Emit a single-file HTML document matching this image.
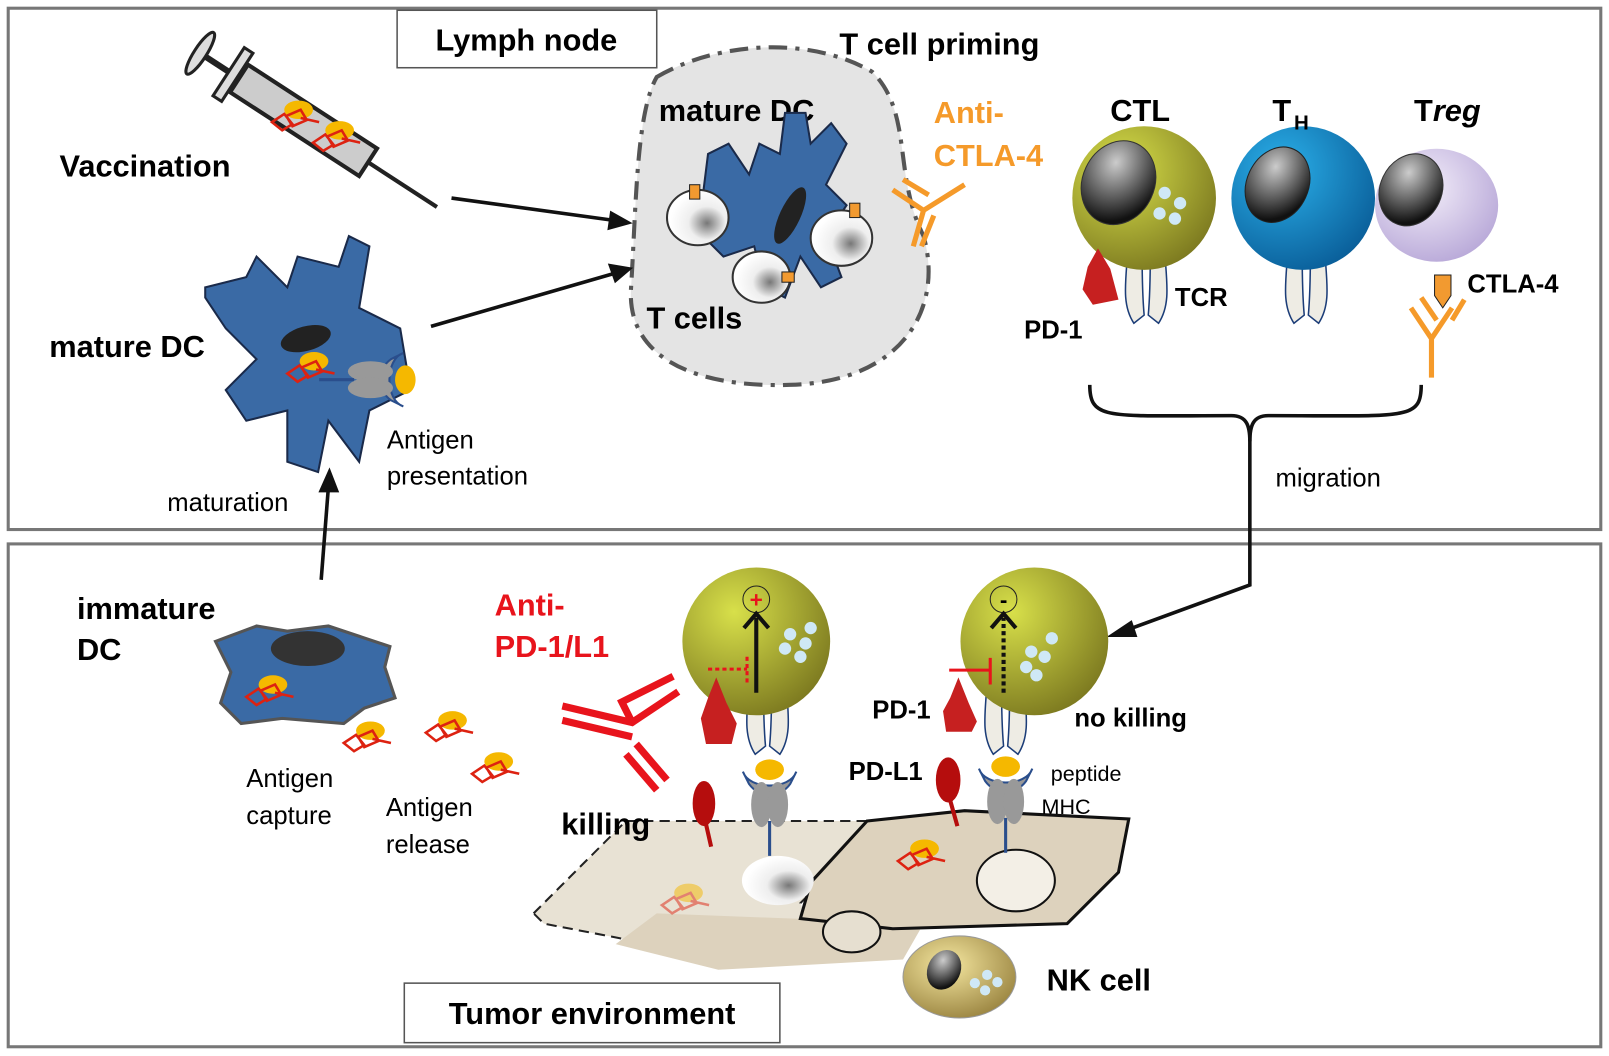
<!DOCTYPE html>
<html><head><meta charset="utf-8"><style>
html,body{margin:0;padding:0;background:#fff}
svg{display:block}
text{font-family:"Liberation Sans",Arial,sans-serif}
</style></head><body>
<svg width="1609" height="1056" viewBox="0 0 1568 1029" preserveAspectRatio="none" xmlns="http://www.w3.org/2000/svg">
<defs>
<radialGradient id="gy" cx="35%" cy="30%" r="75%"><stop offset="0" stop-color="#d8e04a"/><stop offset="1" stop-color="#7d7a20"/></radialGradient>
<radialGradient id="bl" cx="35%" cy="30%" r="75%"><stop offset="0" stop-color="#2bb0ea"/><stop offset="1" stop-color="#0a5f9a"/></radialGradient>
<radialGradient id="pu" cx="40%" cy="35%" r="70%"><stop offset="0" stop-color="#f4effa"/><stop offset="1" stop-color="#b8a8d8"/></radialGradient>
<radialGradient id="nk" cx="40%" cy="35%" r="70%"><stop offset="0" stop-color="#f5e7a0"/><stop offset="1" stop-color="#9a8440"/></radialGradient>
<radialGradient id="nuc" cx="35%" cy="30%" r="70%"><stop offset="0" stop-color="#ccc"/><stop offset="1" stop-color="#111"/></radialGradient>
<radialGradient id="wc" cx="65%" cy="60%" r="60%"><stop offset="0" stop-color="#777"/><stop offset="0.5" stop-color="#eee"/><stop offset="1" stop-color="#fff"/></radialGradient>
<g id="tcr"><path d="M-18,0 C-20,30 -24,52 -12,70 L-2,62 C-4,40 -4,20 -4,0Z" fill="#eeece4" stroke="#1c3d78" stroke-width="1.5"/><path d="M18,0 C20,30 24,52 12,70 L2,62 C4,40 4,20 4,0Z" fill="#eeece4" stroke="#1c3d78" stroke-width="1.5"/></g>
<g id="mhc"><path d="M-26,-8 C-20,10 20,10 26,-8 L20,4 C10,18 -10,18 -20,4Z" fill="#999" stroke="#2a4e8c" stroke-width="2"/><ellipse cx="-8" cy="24" rx="10" ry="22" fill="#999"/><ellipse cx="8" cy="24" rx="10" ry="22" fill="#999"/><line x1="0" y1="40" x2="0" y2="74" stroke="#2a4e8c" stroke-width="3"/><ellipse cx="0" cy="-10" rx="14" ry="10" fill="#f5b800"/></g>
<g id="ag"><ellipse cx="6" cy="-8" rx="14" ry="9" fill="#f5b800"/><path d="M-20,4 l12,-8 l8,10 l-10,6 z M-6,-2 l14,-6 l6,10 l-14,6z M8,0 l18,4" fill="none" stroke="#d21" stroke-width="2.5"/></g>
</defs>
<rect x="8" y="8" width="1552" height="508" fill="none" stroke="#777" stroke-width="3"/>
<rect x="8" y="530" width="1552" height="490" fill="none" stroke="#777" stroke-width="3"/>

<!-- syringe -->
<g transform="translate(300,120) rotate(33)">
<rect x="-80" y="-16" width="150" height="32" fill="#ccc" stroke="#222" stroke-width="4"/>
<line x1="70" y1="0" x2="150" y2="0" stroke="#222" stroke-width="4"/>
<line x1="-80" y1="0" x2="-120" y2="0" stroke="#222" stroke-width="6"/>
<rect x="-92" y="-28" width="10" height="56" fill="#ddd" stroke="#222" stroke-width="3"/>
<ellipse cx="-125" cy="0" rx="6" ry="24" fill="#ddd" stroke="#222" stroke-width="3"/>
</g>
<use href="#ag" x="285" y="115"/><use href="#ag" x="325" y="135"/>
<text x="58" y="172" font-size="30" font-weight="bold">Vaccination</text>

<!-- lymph node region -->
<path d="M640,75 C700,40 790,35 850,70 C890,110 870,170 900,230 C920,300 880,372 770,375 C680,378 610,350 615,280 C620,200 620,110 640,75Z" fill="#e4e4e4" stroke="#555" stroke-width="4" stroke-dasharray="18,8,4,8"/>
<rect x="387" y="10" width="253" height="56" fill="#fff" stroke="#555" stroke-width="1.5"/>
<text x="513" y="49" font-size="30" font-weight="bold" text-anchor="middle">Lymph node</text>
<text x="642" y="118" font-size="30" font-weight="bold">mature DC</text>
<text x="630" y="320" font-size="30" font-weight="bold">T cells</text>
<text x="818" y="53" font-size="30" font-weight="bold">T cell priming</text>
<path d="M690,150 l20,-10 l20,30 l10,-30 l20,10 l5,-40 l20,0 l5,30 l20,-20 l15,20 l-20,40 l20,20 l-20,30 l15,40 l-20,10 l-20,-30 l-15,40 l-20,-10 l-10,-40 l-30,10 l-20,-20 l20,-20 l-20,-20z" fill="#3a6aa5" stroke="#1a2a4a" stroke-width="2"/>
<ellipse cx="770" cy="210" rx="10" ry="30" transform="rotate(25 770 210)" fill="#222"/>
<ellipse cx="680" cy="212" rx="30" ry="27" fill="url(#wc)" stroke="#333" stroke-width="2"/>
<ellipse cx="820" cy="232" rx="30" ry="27" fill="url(#wc)" stroke="#333" stroke-width="2"/>
<ellipse cx="742" cy="270" rx="28" ry="25" fill="url(#wc)" stroke="#333" stroke-width="2"/>
<rect x="672" y="180" width="10" height="14" fill="#f29a30" stroke="#222"/><rect x="828" y="198" width="10" height="14" fill="#f29a30" stroke="#222"/><rect x="762" y="265" width="12" height="10" fill="#f29a30" stroke="#222"/>

<!-- arrows -->
<g stroke="#111" stroke-width="3.5" fill="#111">
<line x1="440" y1="193" x2="600" y2="215"/><path d="M612,217 l-16,-9 l-2,14z"/>
<line x1="420" y1="318" x2="600" y2="266"/><path d="M613,262 l-18,-3 l5,14z"/>
<line x1="313" y1="565" x2="320" y2="475"/><path d="M321,460 l-8,18 l15,0z"/>
<path d="M1218,420 V570 L1095,615" fill="none"/><path d="M1084,619 l18,-12 l4,12z"/>
</g>
<text x="910" y="120" font-size="30" font-weight="bold" fill="#f59a2a">Anti-</text>
<text x="910" y="162" font-size="30" font-weight="bold" fill="#f59a2a">CTLA-4</text>
<g stroke="#f59a2a" stroke-width="5" fill="none"><path d="M870,185 l30,20 l40,-25 M880,175 l25,15 M900,205 l-10,35 M910,210 l-12,30"/></g>

<!-- mature DC left -->
<path d="M200,280 l40,-10 l10,-20 l30,30 l10,-30 l40,10 l10,-30 l20,10 l-10,60 l40,20 l10,60 l-40,20 l-10,50 l-30,-40 l-10,50 l-30,-10 l0,-50 l-40,10 l-20,-30 l30,-30 l-30,-30 l-20,-30z" fill="#3a6aa5" stroke="#1a2a4a" stroke-width="2"/>
<ellipse cx="298" cy="330" rx="25" ry="12" fill="#222" transform="rotate(-15 298 330)"/>
<use href="#ag" x="300" y="360"/>
<g transform="translate(385,370) rotate(90)"><use href="#mhc"/></g>
<text x="48" y="348" font-size="30" font-weight="bold">mature DC</text>
<text x="377" y="437" font-size="25">Antigen</text>
<text x="377" y="472" font-size="25">presentation</text>
<text x="163" y="498" font-size="25">maturation</text>

<!-- T cells top right -->
<use href="#tcr" x="1117" y="245"/><use href="#tcr" x="1273" y="245"/>
<circle cx="1115" cy="193" r="70" fill="url(#gy)"/>
<ellipse cx="1090" cy="178" rx="35" ry="42" fill="url(#nuc)" stroke="#333" transform="rotate(25 1090 178)"/>
<g fill="#cfe8f6"><circle cx="1135" cy="188" r="6"/><circle cx="1150" cy="198" r="6"/><circle cx="1130" cy="208" r="6"/><circle cx="1145" cy="213" r="6"/></g>
<circle cx="1270" cy="193" r="70" fill="url(#bl)"/>
<ellipse cx="1245" cy="180" rx="30" ry="38" fill="url(#nuc)" stroke="#222" transform="rotate(25 1245 180)"/>
<ellipse cx="1400" cy="200" rx="60" ry="55" fill="url(#pu)"/>
<ellipse cx="1375" cy="185" rx="30" ry="36" fill="url(#nuc)" stroke="#333" transform="rotate(25 1375 185)"/>
<path d="M1060,260 l10,-18 l12,20 l8,30 l-25,5 l-10,-15z" fill="#c62020"/>
<path d="M1398,268 h16 v20 l-8,12 l-8,-12z" fill="#f29a30" stroke="#222"/>
<g stroke="#f59a2a" stroke-width="5" fill="none"><path d="M1375,300 l20,30 l20,-30 M1385,290 l15,22 M1395,330 v38 M1415,312 l12,-20"/></g>
<text x="1082" y="118" font-size="30" font-weight="bold">CTL</text>
<text x="1240" y="118" font-size="30" font-weight="bold">T</text><text x="1261" y="126" font-size="20" font-weight="bold">H</text>
<text x="1378" y="118" font-size="30" font-weight="bold">T<tspan font-style="italic">reg</tspan></text>
<text x="1145" y="298" font-size="25" font-weight="bold">TCR</text>
<text x="998" y="330" font-size="25" font-weight="bold">PD-1</text>
<text x="1430" y="285" font-size="25" font-weight="bold">CTLA-4</text>
<path d="M1062,375 C1062,410 1080,405 1200,405 C1215,405 1218,415 1218,430 C1218,415 1221,405 1236,405 C1370,405 1385,410 1385,375" fill="none" stroke="#111" stroke-width="3.5"/>
<text x="1243" y="474" font-size="25">migration</text>

<!-- immature DC -->
<text x="75" y="603" font-size="30" font-weight="bold">immature</text>
<text x="75" y="643" font-size="30" font-weight="bold">DC</text>
<path d="M210,625 l40,-15 l30,5 l40,-5 l30,10 l30,10 l-5,20 l10,30 l-30,10 l-20,15 l-60,-5 l-40,5 l-20,-20 l10,-30z" fill="#3a6aa5" stroke="#555" stroke-width="3"/>
<ellipse cx="300" cy="632" rx="36" ry="17" fill="#333"/>
<use href="#ag" x="260" y="675"/>
<use href="#ag" x="355" y="720"/><use href="#ag" x="435" y="710"/><use href="#ag" x="480" y="750"/>
<text x="240" y="767" font-size="25">Antigen</text><text x="240" y="803" font-size="25">capture</text>
<text x="376" y="795" font-size="25">Antigen</text><text x="376" y="831" font-size="25">release</text>
<text x="482" y="600" font-size="30" font-weight="bold" fill="#e8141c">Anti-</text>
<text x="482" y="640" font-size="30" font-weight="bold" fill="#e8141c">PD-1/L1</text>
<g stroke="#e8141c" stroke-width="7" fill="none"><path d="M548,688 l68,16 l45,-30 M548,702 l68,16 M616,704 l-10,-20 l50,-25 M620,725 l30,35 M610,735 l30,35"/></g>

<!-- tumor cells -->
<path d="M520,890 L610,800 L850,800 L820,840 L780,880 L790,905 L660,925 L530,900Z" fill="#e8e2d4" stroke="#222" stroke-width="2" stroke-dasharray="10,6"/>
<path d="M600,920 L640,890 L900,900 L880,935 L700,945Z" fill="#ddd2bd"/>
<path d="M845,800 L940,790 L1100,798 L1090,850 L1040,900 L870,905 L780,895 L790,860Z" fill="#ddd2bd" stroke="#111" stroke-width="3"/>
<ellipse cx="758" cy="858" rx="35" ry="24" fill="url(#wc)"/>
<ellipse cx="990" cy="858" rx="38" ry="30" fill="#f3efe6" stroke="#111" stroke-width="2"/>
<ellipse cx="830" cy="908" rx="28" ry="20" fill="#e6dfd0" stroke="#111" stroke-width="2"/>
<use href="#ag" x="665" y="878" opacity="0.5"/><use href="#ag" x="895" y="835"/>
<text x="547" y="813" font-size="30" font-weight="bold">killing</text>
<rect x="394" y="958" width="366" height="58" fill="#fff" stroke="#555" stroke-width="1.5"/>
<text x="577" y="998" font-size="30" font-weight="bold" text-anchor="middle">Tumor environment</text>

<!-- bottom T cells -->
<use href="#tcr" x="748" y="665"/><use href="#tcr" x="980" y="665"/>
<circle cx="737" cy="625" r="72" fill="url(#gy)"/>
<circle cx="1008" cy="625" r="72" fill="url(#gy)"/>
<circle cx="737" cy="584" r="13" fill="none" stroke="#222"/><text x="737" y="592" font-size="22" font-weight="bold" fill="#e8141c" text-anchor="middle">+</text>
<line x1="737" y1="675" x2="737" y2="602" stroke="#111" stroke-width="4"/><path d="M725,612 l12,-14 l12,14" fill="none" stroke="#111" stroke-width="4"/>
<path d="M690,652 h38 M728,640 v26" stroke="#e8141c" stroke-width="3" stroke-dasharray="4,3"/>
<circle cx="978" cy="584" r="13" fill="none" stroke="#222"/><text x="978" y="592" font-size="22" font-weight="bold" text-anchor="middle">-</text>
<line x1="978" y1="675" x2="978" y2="602" stroke="#111" stroke-width="4" stroke-dasharray="4,3"/><path d="M966,612 l12,-14 l12,14" fill="none" stroke="#111" stroke-width="4"/>
<path d="M925,653 h40 M965,641 v26" stroke="#e8141c" stroke-width="3"/>
<g fill="#cfe8f6"><circle cx="770" cy="618" r="6"/><circle cx="790" cy="612" r="6"/><circle cx="785" cy="627" r="6"/><circle cx="765" cy="632" r="6"/><circle cx="780" cy="640" r="6"/><circle cx="1005" cy="635" r="6"/><circle cx="1025" cy="622" r="6"/><circle cx="1018" cy="640" r="6"/><circle cx="1000" cy="650" r="6"/><circle cx="1010" cy="658" r="6"/></g>
<path d="M690,680 l8,-20 l10,25 l10,20 l-5,20 l-25,0 l-5,-25z" fill="#c62020"/>
<path d="M926,680 l8,-20 l10,25 l8,18 l-5,10 l-25,0 l-3,-20z" fill="#c62020"/>
<ellipse cx="686" cy="783" rx="11" ry="22" fill="#b50d0d"/><line x1="688" y1="803" x2="693" y2="825" stroke="#b50d0d" stroke-width="4"/>
<ellipse cx="924" cy="760" rx="12" ry="22" fill="#b50d0d"/><line x1="926" y1="780" x2="933" y2="805" stroke="#b50d0d" stroke-width="4"/>
<use href="#mhc" x="750" y="760"/><use href="#mhc" x="980" y="757"/>
<text x="850" y="700" font-size="25" font-weight="bold">PD-1</text>
<text x="827" y="760" font-size="25" font-weight="bold">PD-L1</text>
<text x="1047" y="708" font-size="25" font-weight="bold">no killing</text>
<text x="1024" y="761" font-size="21">peptide</text>
<text x="1015" y="793" font-size="21">MHC</text>

<!-- NK cell -->
<ellipse cx="935" cy="952" rx="55" ry="40" fill="url(#nk)" stroke="#999"/>
<ellipse cx="920" cy="945" rx="16" ry="20" fill="url(#nuc)" transform="rotate(25 920 945)"/>
<g fill="#cfe8f6"><circle cx="950" cy="958" r="5"/><circle cx="962" cy="950" r="5"/><circle cx="960" cy="965" r="5"/><circle cx="972" cy="957" r="5"/></g>
<text x="1020" y="965" font-size="30" font-weight="bold">NK cell</text>
</svg>
</body></html>
